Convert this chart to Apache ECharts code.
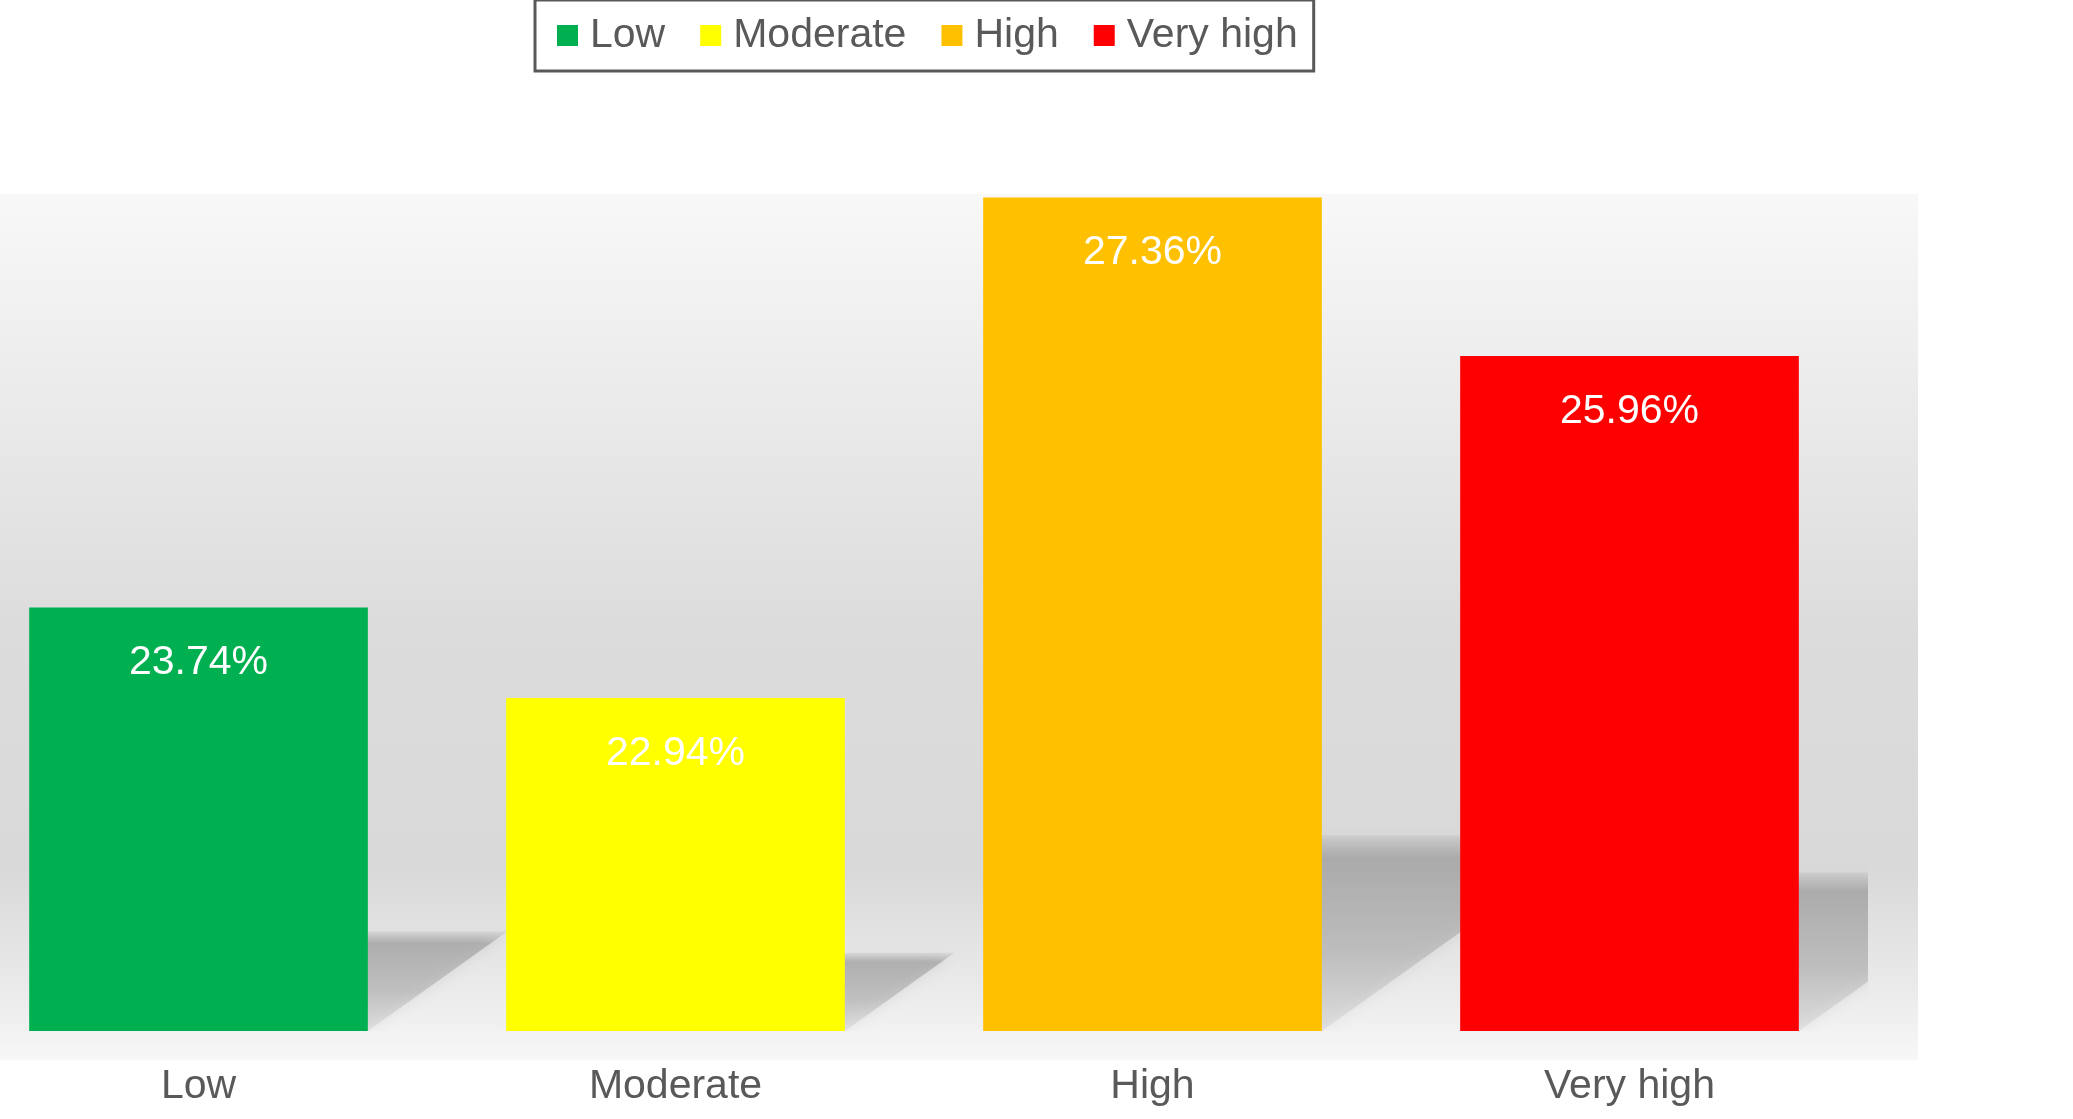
<!DOCTYPE html>
<html>
	<head>
		<meta charset="utf-8">
		<title></title>
		<script src="https://cdn.jsdelivr.net/npm/echarts@6/dist/echarts.min.js"></script>
		<style>
			html, body { margin: 0; padding: 0; background: #fff; }
		</style>
	</head>

	<body>
		<div id="main" style="width: 2073px; height: 1119px;"></div>
		<script type="text/javascript">
			// data
			var categories = ['Low', 'Moderate', 'High', 'Very high'];
			var values = [23.74, 22.94, 27.36, 25.96];
			var colors = ['#00b050', '#ffff00', '#ffc000', '#ff0000'];
			var yMin = 20;
			var yMax = 27.4;

			var fontFamily = "'Liberation Sans', Arial, sans-serif";
			var myChart = echarts.init(document.getElementById("main"));

			// one series per level so the legend shows each one
			var barSeries = categories.map(function (name, i) {
				return {
					name: name,
					type: 'bar',
					stack: 'all',
					barWidth: '71%',
					z: 3,
					itemStyle: { color: colors[i] },
					label: {
						show: true,
						position: 'insideTop',
						distance: 35,
						formatter: '{c}%',
						color: '#fff',
						fontSize: 41,
						fontFamily: fontFamily
					},
					data: values.map(function (v, j) { return j === i ? v : '-'; })
				};
			});

			// floor shadows behind the bars
			var shadowSeries = {
				type: 'custom',
				z: 2,
				clip: true,
				silent: true,
				renderItem: function (params, api) {
					var base = api.coord([api.value(0), yMin]);
					var top = api.coord([api.value(0), api.value(1)]);
					var w = api.size([1, 0])[0] * 0.71;
					var h = (base[1] - top[1]) * 0.235;
					var s = h * 1.4;
					var xl = base[0] - w / 2, xr = base[0] + w / 2, yb = base[1];
					return {
						type: 'polygon',
						shape: { points: [[xl, yb], [xr, yb], [xr + s, yb - h], [xl + s, yb - h]] },
						style: {
							fill: new echarts.graphic.LinearGradient(0, 0, 0, 1, [
								{ offset: 0, color: 'rgba(150,150,150,0.15)' },
								{ offset: 0.12, color: 'rgba(150,150,150,0.6)' },
								{ offset: 0.6, color: 'rgba(165,165,165,0.5)' },
								{ offset: 1, color: 'rgba(195,195,195,0.3)' }
							]),
							shadowBlur: 14,
							shadowColor: 'rgba(160,160,160,0.45)'
						}
					};
				},
				data: values.map(function (v, i) { return [i, v]; })
			};

			option = {
				animation: false,
				graphic: [{
					type: 'rect',
					z: -10,
					silent: true,
					shape: { x: 0, y: 194, width: 1918, height: 866 },
					style: {
						fill: new echarts.graphic.LinearGradient(0, 0, 0, 1, [
							{ offset: 0, color: '#f8f8f8' },
							{ offset: 0.5, color: '#dcdcdc' },
							{ offset: 0.78, color: '#d9d9d9' },
							{ offset: 0.93, color: '#ececec' },
							{ offset: 1, color: '#f7f7f7' }
						])
					}
				}],
				legend: {
					left: 535,
					top: 0,
					orient: 'horizontal',
					borderColor: '#595959',
					borderWidth: 3,
					padding: [15, 16, 15, 22],
					itemWidth: 21,
					itemHeight: 21,
					itemGap: 35,
					icon: 'rect',
					textStyle: {
						color: '#595959',
						fontSize: 41,
						fontFamily: fontFamily,
						padding: [0, 0, 0, 7]
					},
					data: categories
				},
				grid: {
					left: -40,
					width: 1908,
					top: 193,
					bottom: 88,
					outerBoundsMode: 'none',
					containLabel: false
				},
				xAxis: {
					type: 'category',
					data: categories,
					axisLine: { show: false },
					axisTick: { show: false },
					axisLabel: {
						color: '#595959',
						fontSize: 41,
						fontFamily: fontFamily,
						margin: 35
					}
				},
				yAxis: {
					type: 'value',
					min: yMin,
					max: yMax,
					show: false,
					splitLine: { show: false }
				},
				series: [shadowSeries].concat(barSeries)
			};
			myChart.setOption(option);
		</script>
	</body>
</html>
